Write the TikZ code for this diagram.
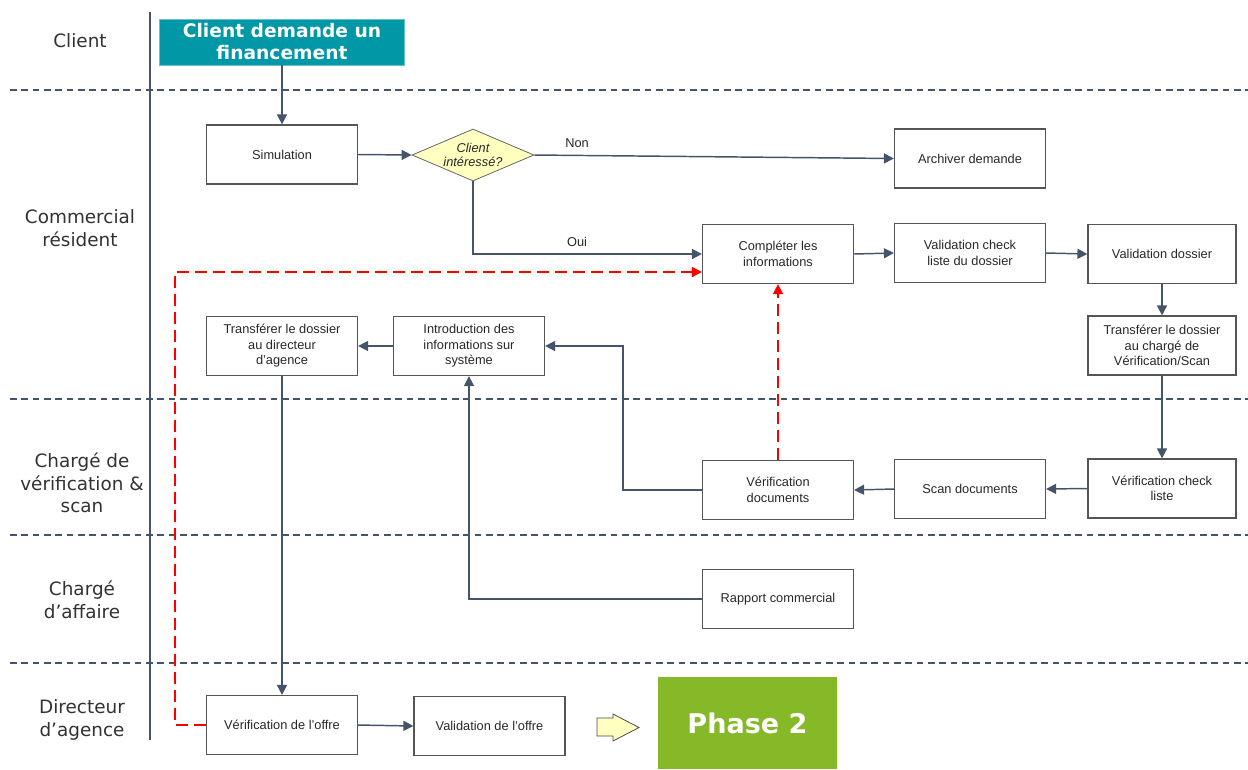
\documentclass[tikz,border=0pt]{standalone}
\usepackage{fontspec}
\setmainfont{DejaVu Sans}
\newfontfamily\boxfam{Liberation Sans}
\usetikzlibrary{shapes.geometric,arrows.meta}
\definecolor{slate}{RGB}{68,84,106}
\definecolor{teal}{RGB}{0,151,167}
\definecolor{phgreen}{RGB}{134,185,40}
\definecolor{dfill}{RGB}{255,255,192}
\definecolor{boxgray}{RGB}{85,85,85}
\definecolor{textgray}{RGB}{40,40,40}
\definecolor{lanetext}{RGB}{50,50,50}
\tikzset{
  box/.style={draw=boxgray, line width=0.9pt, fill=white, minimum width={151*0.75pt}, minimum height={59*0.75pt}, align=center, text=textgray, inner sep=1pt, font=\boxfam\fontsize{9.6}{11.6}\selectfont},
  flow/.style={draw=slate, line width=1.1pt, -{Triangle[length=7.5pt,width=7.5pt]}},
  redflow/.style={draw=red, line width=1.1pt, dash pattern=on 9pt off 4.5pt, -{Triangle[length=7.5pt,width=7.5pt]}},
  lane/.style={align=center, text=lanetext, font=\fontsize{13.8}{17}\selectfont},
  sepline/.style={draw=slate, line width=0.9pt, dash pattern=on 5pt off 3.5pt},
  lbl/.style={text=textgray, font=\boxfam\fontsize{9.6}{11.6}\selectfont},
  blockarrow/.style={draw=gray!60!black, line width=0.6pt, fill=dfill, line join=miter}
}
\begin{document}
\begin{tikzpicture}[x=0.75pt,y=-0.75pt]
\useasboundingbox (0,0) rectangle (1248,769);
% separators
\draw[sepline] (10,90) -- (1248,90);
\draw[sepline] (10,399) -- (1248,399);
\draw[sepline] (10,535) -- (1248,535);
\draw[sepline] (10,663) -- (1248,663);
\draw[slate, line width=1pt] (150,12) -- (150,740);
% lane labels
\node[lane] (lclient) at (80,41) {Client};
\node[lane] (lcom) at (80,228) {Commercial\\résident};
\node[lane] (lver) at (82,483) {Chargé de\\vérification \&\\scan};
\node[lane] (laff) at (82,600) {Chargé\\d’affaire};
\node[lane] (ldir) at (82,720) {Directeur\\d’agence};
% nodes
\node[fill=teal, draw=teal!60, minimum width={245*0.75pt}, minimum height={46*0.75pt}, inner sep=0pt, align=center, text=white, font=\bfseries\fontsize{14}{16.5}\selectfont] (client) at (282,42) {Client demande un\\financement};
\node[box] (sim) at (282,154.5) {Simulation};
\node[diamond, draw=gray!80!black, line width=0.6pt, fill=dfill, aspect=2.35, inner sep=-3pt, minimum width={122*0.75pt}, minimum height={52*0.75pt}, align=center, text=textgray, font=\boxfam\itshape\fontsize{9.6}{11}\selectfont] (dia) at (473,155) {Client\\intéressé?};
\node[box] (arch) at (970,158.5) {Archiver demande};
\node[box] (comp) at (778,254) {Compléter les\\informations};
\node[box] (vcl) at (970,253) {Validation check\\liste du dossier};
\node[box, minimum width={148*0.75pt}] (vdos) at (1162,254) {Validation dossier};
\node[box, minimum width={148*0.75pt}] (tchg) at (1162,345.5) {Transférer le dossier\\au chargé de\\Vérification/Scan};
\node[box, minimum width={148*0.75pt}] (vchk) at (1162,488.5) {Vérification check\\liste};
\node[box] (scan) at (970,489) {Scan documents};
\node[box] (vdoc) at (778,490) {Vérification\\documents};
\node[box] (intro) at (469,346) {Introduction des\\informations sur\\système};
\node[box] (tdir) at (282,346) {Transférer le dossier\\au directeur\\d’agence};
\node[box] (rapp) at (778,599) {Rapport commercial};
\node[box] (voff) at (282,725) {Vérification de l’offre};
\node[box] (valoff) at (489.5,726) {Validation de l’offre};
\draw[blockarrow] (597,718) -- (613,718) -- (613,714) -- (639,727.5) -- (613,741) -- (613,736) -- (597,736) -- cycle;
\node[fill=phgreen, minimum width={179*0.75pt}, minimum height={92*0.75pt}, inner sep=0pt, text=white, font=\bfseries\fontsize{20.3}{24}\selectfont] (phase) at (747.5,723) {Phase 2};
% connectors
\draw[flow] (client.south) -- (sim.north);
\draw[flow] (sim.east) -- (dia.west);
\draw[flow] (dia.east) -- (arch.west);
\draw[flow] (dia.south) |- (comp.west);
\node[lbl] (non) at (577,143) {Non};
\node[lbl] (oui) at (577,242) {Oui};
\draw[flow] (comp.east) -- (vcl.west);
\draw[flow] (vcl.east) -- (vdos.west);
\draw[flow] (vdos.south) -- (tchg.north);
\draw[flow] (tchg.south) -- (vchk.north);
\draw[flow] (vchk.west) -- (scan.east);
\draw[flow] (scan.west) -- (vdoc.east);
\coordinate (k1) at (623,346);
\draw[flow] (vdoc.west) -| (k1) -- (intro.east);
\draw[flow] (intro.west) -- (tdir.east);
\draw[flow] (tdir.south) -- (voff.north);
\draw[flow] (rapp.west) -| (intro.south);
\draw[flow] (voff.east) -- (valoff.west);
\draw[redflow] (vdoc.north) -- (comp.south);
\coordinate (rc) at (175,272);
\draw[redflow] (voff.west) -| (rc) -- (comp.west |- rc);
\end{tikzpicture}
\end{document}
